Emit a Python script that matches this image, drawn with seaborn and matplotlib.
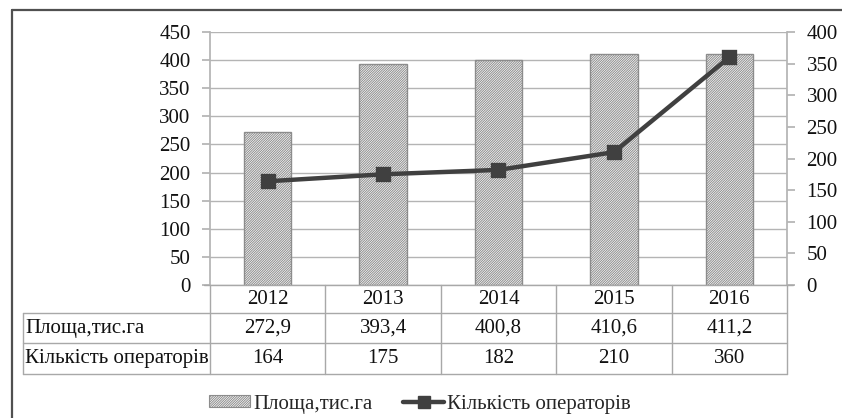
import matplotlib.pyplot as plt
import matplotlib.lines as mlines
import matplotlib.patches as mpatches
import pandas as pd
import seaborn as sns

years = ["2012", "2013", "2014", "2015", "2016"]
area = [272.9, 393.4, 400.8, 410.6, 411.2]
operators = [164, 175, 182, 210, 360]
area_labels = ["272,9", "393,4", "400,8", "410,6", "411,2"]
operator_labels = ["164", "175", "182", "210", "360"]
area_name = "Площа,тис.га"
operators_name = "Кількість операторів"

W, H = 842, 418
LINE_COLOR = "#404040"
GRID_COLOR = "#b4b4b4"
TABLE_COLOR = "#a8a8a8"

sns.set_theme(style="white")
plt.rcParams["font.family"] = ["Liberation Serif", "DejaVu Serif"]
plt.rcParams["hatch.color"] = "#4a4a4a"
plt.rcParams["hatch.linewidth"] = 0.7
FS = 15
HATCH = "//////////////"


def fx(px):
    return px / W


def fy(py):
    return 1 - py / H


df = pd.DataFrame({"year": years, "area": area, "operators": operators})

fig = plt.figure(figsize=(W / 100, H / 100), dpi=100)
left, right, top, bottom = 210, 787, 32, 285
ax = fig.add_axes([fx(left), fy(bottom), fx(right - left), fy(top) - fy(bottom)])

sns.barplot(data=df, x="year", y="area", ax=ax, color="white", width=0.41,
            edgecolor="#8c8c8c", linewidth=1.0, hatch=HATCH, zorder=2)
ax.set_ylim(0, 450)
ax.set_xlim(-0.5, 4.5)
ax.set_yticks(range(0, 451, 50))
ax.yaxis.grid(True, color=GRID_COLOR, linewidth=1.0, zorder=0)
ax.set_axisbelow(True)
ax.set_xlabel("")
ax.set_ylabel("")
ax.set_xticks([])
for s in ["top", "right", "bottom"]:
    ax.spines[s].set_visible(False)
ax.spines["left"].set_color(GRID_COLOR)
ax.tick_params(axis="y", length=6, color=GRID_COLOR, labelsize=FS, pad=8,
               left=True, labelcolor="#111111")

ax2 = ax.twinx()
sns.pointplot(data=df, x="year", y="operators", ax=ax2, color=LINE_COLOR,
              markers="s", markersize=9, linewidth=3.2, zorder=5)
ax2.set_ylim(0, 400)
ax2.set_xlim(-0.5, 4.5)
ax2.set_yticks(range(0, 401, 50))
ax2.set_xlabel("")
ax2.set_ylabel("")
for s in ["top", "left", "bottom"]:
    ax2.spines[s].set_visible(False)
ax2.spines["right"].set_color(GRID_COLOR)
ax2.tick_params(axis="y", length=6, color=GRID_COLOR, labelsize=FS, pad=8,
                right=True, labelcolor="#111111")

# data table below the plot
col_w = (right - left) / len(years)
rows_y = [285, 313, 343, 374]
label_x = 23


def hline(x0, x1, y):
    fig.add_artist(mlines.Line2D([fx(x0), fx(x1)], [fy(y), fy(y)],
                                 color=TABLE_COLOR, linewidth=1.0))


def vline(x, y0, y1):
    fig.add_artist(mlines.Line2D([fx(x), fx(x)], [fy(y0), fy(y1)],
                                 color=TABLE_COLOR, linewidth=1.0))


hline(left - 6, right + 6, rows_y[0])
for y in rows_y[1:]:
    hline(label_x, right, y)
for i in range(len(years) + 1):
    vline(left + i * col_w, rows_y[0], rows_y[3])
vline(label_x, rows_y[1], rows_y[3])

for i, (yr, a, o) in enumerate(zip(years, area_labels, operator_labels)):
    cx = left + (i + 0.5) * col_w
    for text, r in [(yr, 0), (a, 1), (o, 2)]:
        fig.text(fx(cx), fy((rows_y[r] + rows_y[r + 1]) / 2), text,
                 ha="center", va="center", fontsize=FS, color="#111111")
fig.text(fx(label_x + 2), fy((rows_y[1] + rows_y[2]) / 2), area_name,
         ha="left", va="center", fontsize=FS, color="#111111")
fig.text(fx(label_x + 2), fy((rows_y[2] + rows_y[3]) / 2), operators_name,
         ha="left", va="center", fontsize=FS, color="#111111")

# legend
bar_handle = mpatches.Patch(facecolor="white", edgecolor="#8c8c8c",
                            hatch=HATCH, linewidth=0.8)
line_handle = mlines.Line2D([], [], color=LINE_COLOR, linewidth=3.2,
                            marker="s", markersize=9)
fig.legend([bar_handle, line_handle], [area_name, operators_name],
           loc="center", bbox_to_anchor=(fx(420), fy(404)), ncol=2,
           frameon=False, fontsize=FS, handlelength=1.95, handletextpad=0.15,
           columnspacing=1.5, handleheight=0.5)

# outer frame (top and left edges visible)
fig.add_artist(mlines.Line2D([fx(12), 1.0], [fy(10), fy(10)],
                             color="#505050", linewidth=1.6))
fig.add_artist(mlines.Line2D([fx(12), fx(12)], [fy(10), 0.0],
                             color="#505050", linewidth=1.6))

fig.savefig("out.png", dpi=100)
